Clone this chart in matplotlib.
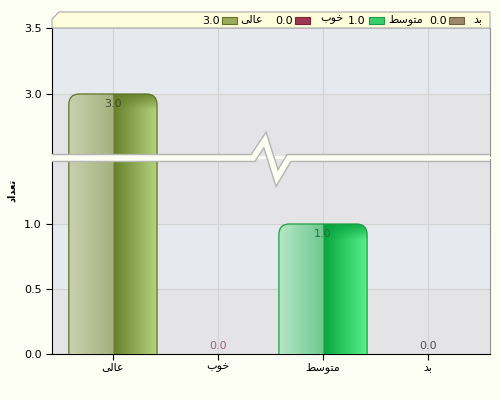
import matplotlib
matplotlib.use('Agg')
import matplotlib.pyplot as plt
import numpy as np
from matplotlib.patches import FancyBboxPatch, Rectangle, Polygon
from matplotlib.lines import Line2D
from matplotlib.colors import to_rgb

# Persian text written in presentation forms (matplotlib has no Arabic shaping)
categories = ['\uFBFD\uFEDF\uFE8E\uFECB', '\uFE8F\uFEEE\uFEA7',
              '\uFEC2\uFEB3\uFEEE\uFE98\uFEE3', '\uFEAA\uFE91']
values = [3.0, 0.0, 1.0, 0.0]
ylabel = '\uFEA9\uFE8D\uFEAA\uFECC\uFE97'
low_ticks = [0.0, 0.5, 1.0]
high_ticks = [3.0, 3.5]

styles = [
    dict(c=['#cacfae', '#a4b17e', '#66802a', '#b8d47e'], edge='#5f7226', txt='#3f4a2a', sw='#9aab5c'),
    dict(c=['#e0a0b0', '#c06078', '#902040', '#d07090'], edge='#802038', txt='#a06080', sw='#a03850'),
    dict(c=['#b6e7c6', '#6fc88f', '#07a53c', '#59f28b'], edge='#1d9c45', txt='#2a6a40', sw='#3ccc6e'),
    dict(c=['#d0c8b0', '#b0a080', '#807050', '#c0b090'], edge='#706040', txt='#505050', sw='#9a8a6a'),
]

plt.rcParams['font.family'] = ['DejaVu Sans']
BG = '#fcfef4'
BAND_A = '#e6e9ed'
BAND_B = '#e4e4e6'
GRID = '#d2d2d2'

fig = plt.figure(figsize=(5, 4), dpi=100, facecolor=BG)


def px(x, y):
    return (x / 500.0, 1 - y / 400.0)


L, R = 52 / 500.0, 490 / 500.0
ax_hi = fig.add_axes([L, 1 - 156 / 400.0, R - L, (156 - 28) / 400.0])
ax_lo = fig.add_axes([L, 1 - 354 / 400.0, R - L, (354 - 159) / 400.0])

xpos = np.arange(len(categories))
W = 0.84


def grad_bar(ax, x, h, st, bottom):
    patch = FancyBboxPatch((x - W / 2, bottom), W, h - bottom,
                           boxstyle='round,pad=0,rounding_size=0.1',
                           mutation_aspect=105 / 130.0,
                           fc='none', ec=st['edge'], lw=0.9, zorder=5)
    ax.add_patch(patch)
    n = 200
    t = np.linspace(0, 1, n)
    cols = [np.array(to_rgb(c)) for c in st['c']]
    img = np.zeros((4, n, 3))
    for i, tt in enumerate(t):
        if tt < 0.5:
            f = tt / 0.5
            col = cols[0] * (1 - f) + cols[1] * f
        else:
            f = (tt - 0.5) / 0.5
            col = cols[2] * (1 - f) + cols[3] * f
        img[:, i, :] = col
    im = ax.imshow(img, extent=(x - W / 2, x + W / 2, bottom, h), aspect='auto',
                   origin='lower', zorder=3, interpolation='bilinear')
    im.set_clip_path(patch)
    # darker gloss at the top of the right half
    sh = np.zeros((30, 2, 4))
    sh[..., :3] = cols[2]
    sh[..., 3] = np.linspace(0, 0.85, 30)[:, None]
    im2 = ax.imshow(sh, extent=(x, x + W / 2, h - 0.12, h), aspect='auto',
                    origin='lower', zorder=4, interpolation='bilinear')
    im2.set_clip_path(patch)


for ax in (ax_hi, ax_lo):
    ax.set_facecolor(BAND_B)
    ax.set_xlim(-0.58, 3.59)
    ax.set_xticks(xpos)
    ax.grid(True, color=GRID, lw=0.8, zorder=1)
    ax.set_axisbelow(True)
    ax.tick_params(axis='y', labelsize=8, length=4, width=0.8, color='black')
    ax.spines['top'].set_visible(False)
    ax.spines['right'].set_color('#909090')
    ax.spines['left'].set_color('black')

# alternating background stripes
ax_hi.axhspan(3.0, 3.5, color=BAND_A, zorder=0, lw=0)
ax_lo.axhspan(0.5, 1.0, color=BAND_A, zorder=0, lw=0)

for i, v in enumerate(values):
    if v > 0:
        grad_bar(ax_lo, xpos[i], v, styles[i], -0.3)
        if v > 2.53:
            grad_bar(ax_hi, xpos[i], v, styles[i], 1.5)

ax_hi.set_ylim(3.5 - 128 / 132.0, 3.5)
ax_hi.set_yticks(high_ticks)
ax_hi.set_yticklabels(['%.1f' % t for t in high_ticks])
ax_hi.tick_params(axis='x', bottom=False, labelbottom=False)
ax_hi.spines['bottom'].set_visible(False)

ax_lo.set_ylim(0, 1.5)
ax_lo.set_yticks(low_ticks)
ax_lo.set_yticklabels(['%.1f' % t for t in low_ticks])
ax_lo.set_xticklabels(categories, fontsize=8)
ax_lo.tick_params(axis='x', length=4, width=0.8, pad=2)
ax_lo.spines['bottom'].set_color('black')

# value labels
for i, v in enumerate(values):
    target = ax_hi if v > 1.5 else ax_lo
    if v > 0:
        target.text(xpos[i], v - 0.04, '%.1f' % v, ha='center', va='top',
                    fontsize=8, color=styles[i]['txt'], zorder=6)
    else:
        target.text(xpos[i], 0.02, '%.1f' % v, ha='center', va='bottom',
                    fontsize=8, color=styles[i]['txt'], zorder=6)

# break band with zigzag
zig = [px(52, 158), px(253, 158), px(265, 140), px(277, 178), px(289, 158), px(490, 158)]
zx, zy = zip(*zig)
fig.add_artist(Line2D(zx, zy, transform=fig.transFigure, color='#b4b4b4', lw=6.0,
                      solid_joinstyle='miter', solid_capstyle='butt', zorder=10))
fig.add_artist(Line2D(zx, zy, transform=fig.transFigure, color=BG, lw=4.0,
                      solid_joinstyle='miter', solid_capstyle='butt', zorder=11))

# legend strip
leg = Polygon([px(52, 28), px(52, 19), px(59, 12), px(490, 12), px(490, 28)],
              closed=True, transform=fig.transFigure, fc='#fffedc', ec='#a8a8a8', lw=0.8, zorder=5)
fig.add_artist(leg)
legend_x = [(202, 222, 240), (275, 295, 320), (348, 369, 388), (429, 449, 473)]
for i, (xv, xs, xn) in enumerate(legend_x):
    fig.text(*px(xv, 20.5), '%.1f' % values[i], fontsize=8, va='center', ha='left', zorder=12)
    fig.add_artist(Rectangle(px(xs, 24), 15 / 500.0, 7 / 400.0, transform=fig.transFigure,
                             fc=styles[i]['sw'], ec=styles[i]['edge'], lw=0.8, zorder=12))
    fig.text(*px(xn, 19.5), categories[i], fontsize=8, va='center', ha='left', zorder=12)

fig.text(*px(12, 190), ylabel, rotation=90, fontsize=7, fontweight='bold', ha='center', va='center')

fig.savefig('out.png', dpi=100, facecolor=BG)
